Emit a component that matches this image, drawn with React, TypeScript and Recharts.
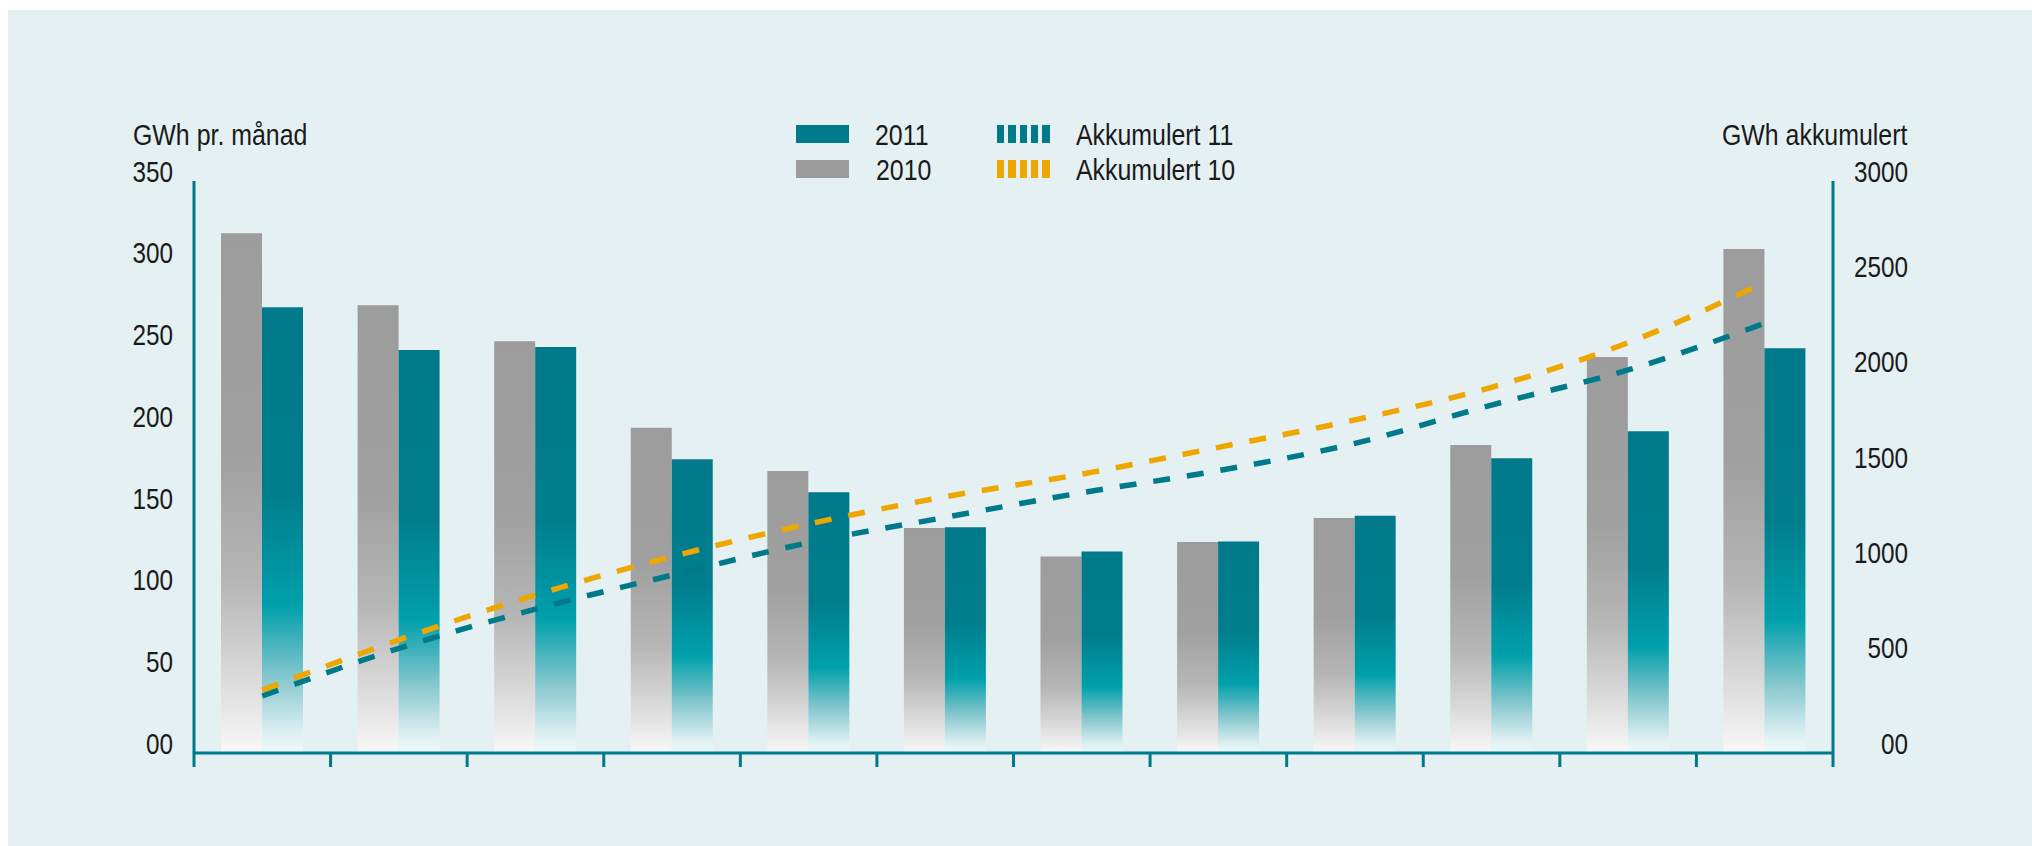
import React from "react";
import { ComposedChart, Bar, Line, XAxis, YAxis } from "recharts";

// månadsverdiar (GWh) og akkumulert (GWh)
const months = ["jan", "feb", "mar", "apr", "mai", "jun", "jul", "aug", "sep", "okt", "nov", "des"];
const gwh2010 = [318, 274, 252, 199, 172.5, 137.7, 120.3, 129.1, 143.8, 188.5, 242.3, 308.4];
const gwh2011 = [272.7, 246.6, 248.4, 179.7, 159.5, 138.1, 123.3, 129.4, 145.2, 180.3, 196.8, 247.6];
const akk10 = [330, 593, 829, 1030, 1201, 1344, 1463, 1603, 1747, 1918, 2152, 2469];
const akk11 = [299, 549, 755, 933, 1103, 1236, 1365, 1481, 1624, 1825, 2009, 2254];
const leftTicks = [0, 50, 100, 150, 200, 250, 300, 350];
const rightTicks = [0, 500, 1000, 1500, 2000, 2500, 3000];

const data = months.map((m, i) => ({
  month: m,
  y2010: gwh2010[i],
  y2011: gwh2011[i],
  akk10: akk10[i],
  akk11: akk11[i],
}));

const FONT = "'Liberation Sans', Arial, sans-serif";
const TEAL = "#007a8a";
const ORANGE = "#eea600";
const INK = "#1a1a1a";
const SQUEEZE = 0.81;

const fmt = (v: number) => (v === 0 ? "00" : String(v));

// narrow the glyphs to get close to the condensed face of the original
function AxisTick(props: any) {
  const { x, y, payload } = props;
  return (
    <g transform={`translate(${x},${y - 10}) scale(${SQUEEZE},1)`}>
      <text x={0} y={0} dy="0.355em" textAnchor="end" fontFamily={FONT} fontSize={30} fill={INK}>
        {fmt(payload.value)}
      </text>
    </g>
  );
}

// tick marks sit on the borders between months, not under the bars
function MonthTick(props: any) {
  const { x, y, width, index, visibleTicksCount } = props;
  const band = width / visibleTicksCount;
  const left = x - band / 2;
  return (
    <g>
      <line x1={left} x2={left} y1={y} y2={y + 14} stroke={TEAL} strokeWidth={3} />
      {index === visibleTicksCount - 1 && (
        <line x1={x + band / 2} x2={x + band / 2} y1={y} y2={y + 14} stroke={TEAL} strokeWidth={3} />
      )}
    </g>
  );
}

const txt = (origin: string): React.CSSProperties => ({
  position: "absolute",
  fontFamily: FONT,
  fontSize: 30,
  color: INK,
  lineHeight: "30px",
  whiteSpace: "nowrap",
  transform: "scaleX(0.83)",
  transformOrigin: origin,
});

function Swatch({ left, top, color, dashed }: { left: number; top: number; color: string; dashed?: boolean }) {
  if (!dashed) {
    return <div style={{ position: "absolute", left, top, width: 53, height: 18, background: color }} />;
  }
  return (
    <div style={{ position: "absolute", left, top, width: 52, height: 18 }}>
      {[0, 1, 2, 3, 4].map((k) => (
        <div key={k} style={{ position: "absolute", left: k * 11.3, top: 0, width: 7.4, height: 18, background: color }} />
      ))}
    </div>
  );
}

export default function App() {
  return (
    <div style={{ position: "absolute", left: 0, top: 0, width: 2032, height: 846, background: "#ffffff", overflow: "hidden" }}>
      <div style={{ position: "absolute", left: 8, top: 10, width: 2024, height: 836, background: "#e4f0f2" }} />

      <ComposedChart
        width={2032}
        height={846}
        data={data}
        margin={{ top: 181, right: 0, bottom: 0, left: 0 }}
        barGap={0}
        style={{ position: "absolute", left: 0, top: 0 }}
      >
        <defs>
          <linearGradient id="gTeal" x1="0" y1="0" x2="0" y2="1">
            <stop offset="0%" stopColor="#007a8a" />
            <stop offset="42%" stopColor="#007d8d" />
            <stop offset="67%" stopColor="#00a0ab" />
            <stop offset="82%" stopColor="#7ec4cb" />
            <stop offset="96%" stopColor="#e0f1f3" />
            <stop offset="100%" stopColor="#eef8f9" />
          </linearGradient>
          <linearGradient id="gGray" x1="0" y1="0" x2="0" y2="1">
            <stop offset="0%" stopColor="#9c9c9c" />
            <stop offset="42%" stopColor="#a0a0a0" />
            <stop offset="67%" stopColor="#b6b6b6" />
            <stop offset="85%" stopColor="#d9d9d9" />
            <stop offset="100%" stopColor="#f8f8f8" />
          </linearGradient>
        </defs>
        <XAxis
          dataKey="month"
          height={93}
          axisLine={{ stroke: TEAL, strokeWidth: 3 }}
          tickLine={false}
          tickSize={0}
          tickMargin={0}
          interval={0}
          tick={<MonthTick />}
        />
        <YAxis
          yAxisId="left"
          width={194}
          domain={[0, 350]}
          ticks={leftTicks}
          interval={0}
          axisLine={{ stroke: TEAL, strokeWidth: 3 }}
          tickLine={false}
          tickSize={0}
          tickMargin={21}
          tick={<AxisTick />}
        />
        <YAxis
          yAxisId="right"
          orientation="right"
          width={199}
          domain={[0, 3000]}
          ticks={rightTicks}
          interval={0}
          axisLine={{ stroke: TEAL, strokeWidth: 3 }}
          tickLine={false}
          tickSize={0}
          tickMargin={75}
          tick={<AxisTick />}
        />
        <Bar yAxisId="left" dataKey="y2010" name="2010" barSize={41} fill="url(#gGray)" isAnimationActive={false} />
        <Bar yAxisId="left" dataKey="y2011" name="2011" barSize={41} fill="url(#gTeal)" isAnimationActive={false} />
        <Line
          yAxisId="right"
          type="monotone"
          dataKey="akk11"
          name="Akkumulert 11"
          stroke={TEAL}
          strokeWidth={5.5}
          strokeDasharray="17 17"
          dot={false}
          activeDot={false}
          isAnimationActive={false}
        />
        <Line
          yAxisId="right"
          type="monotone"
          dataKey="akk10"
          name="Akkumulert 10"
          stroke={ORANGE}
          strokeWidth={5.5}
          strokeDasharray="17 17"
          dot={false}
          activeDot={false}
          isAnimationActive={false}
        />
      </ComposedChart>

      <div style={{ ...txt("left top"), left: 133, top: 119.5 }}>GWh pr. månad</div>
      <div style={{ ...txt("right top"), right: 2032 - 1907, top: 119.5 }}>GWh akkumulert</div>

      <Swatch left={796} top={125} color={TEAL} />
      <div style={{ ...txt("left top"), left: 875, top: 120 }}>2011</div>
      <Swatch left={796} top={160} color="#9c9c9c" />
      <div style={{ ...txt("left top"), left: 876, top: 155 }}>2010</div>
      <Swatch left={997} top={125} color={TEAL} dashed />
      <div style={{ ...txt("left top"), left: 1076, top: 120 }}>Akkumulert 11</div>
      <Swatch left={997} top={160} color={ORANGE} dashed />
      <div style={{ ...txt("left top"), left: 1076, top: 155 }}>Akkumulert 10</div>
    </div>
  );
}
